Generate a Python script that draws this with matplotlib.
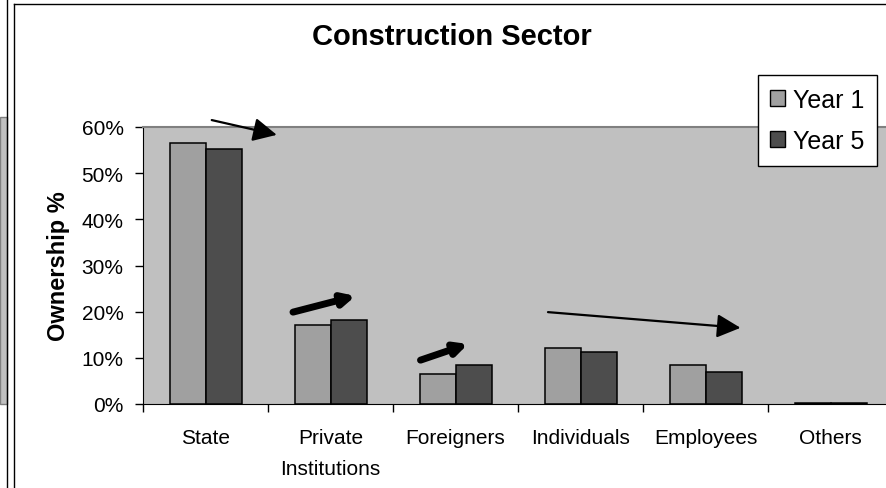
import matplotlib.pyplot as plt
from matplotlib.patches import Rectangle
from matplotlib.lines import Line2D
from matplotlib.ticker import PercentFormatter
import numpy as np

# chart data (ownership %)
categories = ['State', 'Private\nInstitutions', 'Foreigners', 'Individuals', 'Employees', 'Others']
year1 = [56.5, 17.2, 6.6, 12.1, 8.4, 0.3]
year5 = [55.2, 18.2, 8.4, 11.2, 7.0, 0.3]

# trend arrows: (x0, y0, x1, y1) in category units / percent
arrowsThin = [(0.05, 61.5, 0.57, 58.3), (2.74, 19.9, 4.28, 16.5)]
arrowsThick = [(0.70, 19.9, 1.20, 23.4), (1.72, 9.5, 2.10, 13.0)]

c1 = '#a0a0a0'     # year 1 colour
c5 = '#4d4d4d'     # year 5 colour
bg = '#c0c0c0'     # plot area colour

plt.rcParams['font.family'] = ['Liberation Sans', 'DejaVu Sans']

fig = plt.figure(figsize=(8.87, 4.89), dpi=100)
ax = fig.add_axes([143/887, 1-405/489, 750/887, 277/489])
ax.set_facecolor(bg)

x = np.arange(len(categories))
w = 0.288
ax.bar(x - w/2, year1, w, color=c1, edgecolor='black', linewidth=1.1, label='Year 1', zorder=3)
ax.bar(x + w/2, year5, w, color=c5, edgecolor='black', linewidth=1.1, label='Year 5', zorder=3)

ax.set_xlim(-0.5, 5.5)
ax.set_ylim(0, 60)
ax.set_yticks(np.arange(0, 61, 10))
ax.yaxis.set_major_formatter(PercentFormatter(decimals=0))
ax.set_xticks(np.arange(-0.5, 5.6, 1))
ax.set_xticklabels([])
ax.set_xticks(x, minor=True)
ax.set_xticklabels(categories, minor=True, fontsize=15, linespacing=1.8)
ax.tick_params(axis='x', which='minor', length=0, pad=17)
ax.tick_params(axis='x', which='major', length=6, width=1, direction='out')
ax.tick_params(axis='y', length=6, width=1, direction='out', labelsize=15, pad=8)

ax.spines['right'].set_visible(False)
ax.spines['top'].set_color('#808080')
ax.spines['top'].set_linewidth(1.5)
ax.spines['left'].set_color('black')
ax.spines['bottom'].set_color('black')

ax.set_ylabel('Ownership %', fontsize=17, fontweight='bold', labelpad=8)
fig.text(452/887, 1-37/489, 'Construction Sector', fontsize=21, fontweight='bold',
         ha='center', va='center')

for x0, y0, x1, y1 in arrowsThin:
    ax.annotate('', xy=(x1, y1), xytext=(x0, y0), annotation_clip=False,
                arrowprops=dict(arrowstyle='-|>', lw=1.6, color='black',
                                mutation_scale=36, shrinkA=0, shrinkB=0), zorder=5)
for x0, y0, x1, y1 in arrowsThick:
    ax.annotate('', xy=(x1, y1), xytext=(x0, y0), annotation_clip=False,
                arrowprops=dict(arrowstyle='-|>', lw=5, color='black',
                                mutation_scale=18, shrinkA=0, shrinkB=0), zorder=5)

leg = ax.legend(loc='upper left', bbox_to_anchor=(758/887, 1-76/489), bbox_transform=fig.transFigure,
                fontsize=18, frameon=True, fancybox=False, edgecolor='black', framealpha=1,
                borderaxespad=0, handlelength=0.6, handleheight=0.6, handletextpad=0.3,
                borderpad=0.5, labelspacing=0.7)
leg.get_frame().set_linewidth(1)
for p in leg.get_patches():
    p.set_linewidth(1)

# fragments of the neighbouring chart and the frame
fig.add_artist(Rectangle((0, 1-405/489), 7/887, 287/489, transform=fig.transFigure,
                         facecolor=bg, edgecolor='#808080', lw=1))
fig.add_artist(Line2D([7/887, 7/887], [0, 1], transform=fig.transFigure, color='black', lw=1))
fig.add_artist(Line2D([14/887, 14/887], [0, 1-5/489], transform=fig.transFigure, color='black', lw=1))
fig.add_artist(Line2D([14/887, 1], [1-5/489, 1-5/489], transform=fig.transFigure, color='black', lw=1))

fig.savefig('out.png', dpi=100)
